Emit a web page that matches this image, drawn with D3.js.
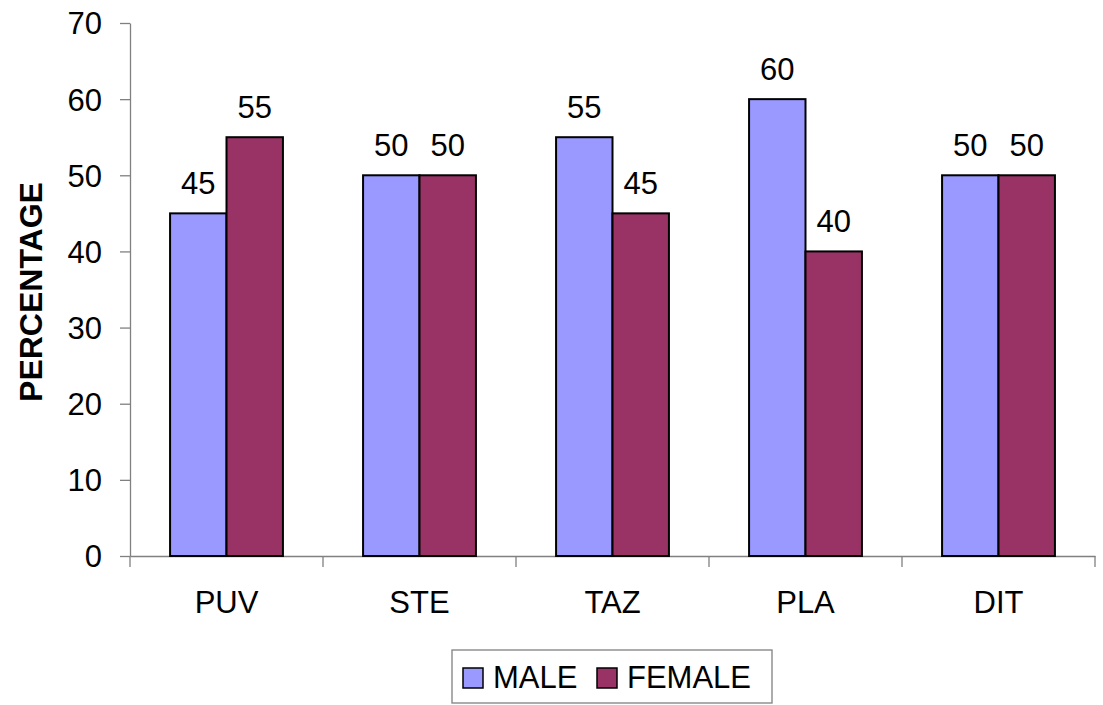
<!DOCTYPE html>
<html lang="en">
<head>
<meta charset="UTF-8">
<script src="https://d3js.org/d3.v7.min.js"></script>
<style>
    body { margin: 0; background: #fff; }
    svg { font-family: "Liberation Sans", Arial, sans-serif; }
    .axis path, .axis line { stroke: #808080; stroke-width: 1.3px; }
    .axis text { font-size: 31px; fill: #000; }
    .bar { stroke: #000; stroke-width: 2px; }
    .value { font-size: 31px; text-anchor: middle; }
    .axis-title { font-size: 32px; font-weight: bold; }
    .legend text { font-size: 31px; }
</style>
</head>
<body>
<div id="chart"></div>
<script>
    const categories = ["PUV", "STE", "TAZ", "PLA", "DIT"];
    const seriesNames = ["MALE", "FEMALE"];
    const male = [45, 50, 55, 60, 50];
    const female = [55, 50, 45, 40, 50];
    const yTicks = [0, 10, 20, 30, 40, 50, 60, 70];
    const colors = ["#9999ff", "#993366"];

    const W = 1103, H = 705;
    const margin = {top: 23, right: 8, bottom: 149, left: 130};
    const width = W - margin.left - margin.right;
    const height = H - margin.top - margin.bottom;

    const svg = d3.select("#chart").append("svg")
        .attr("width", W)
        .attr("height", H);

    const g = svg.append("g")
        .attr("transform", `translate(${margin.left},${margin.top})`);

    const x = d3.scaleBand()
        .domain(categories)
        .range([0, width]);

    const x1 = d3.scaleBand()
        .domain(seriesNames)
        .range([0, x.bandwidth()])
        .paddingInner(0)
        .paddingOuter(0.71);

    const y = d3.scaleLinear()
        .domain([0, 70])
        .range([height, 0]);

    const rows = categories.map((c, i) => ({
        cat: c,
        vals: [{s: "MALE", v: male[i]}, {s: "FEMALE", v: female[i]}]
    }));

    // axes
    g.append("g")
        .attr("class", "axis")
        .call(d3.axisLeft(y).tickValues(yTicks).tickSize(10).tickSizeOuter(0).tickPadding(18))
        .selectAll("text").attr("dy", "0.35em");

    const xAxis = g.append("g")
        .attr("class", "axis")
        .attr("transform", `translate(0,${height})`)
        .call(d3.axisBottom(x).tickSize(0).tickSizeOuter(0).tickPadding(35));

    // tick marks between categories
    xAxis.selectAll(".sep")
        .data(d3.range(categories.length + 1))
        .enter()
        .append("line")
        .attr("class", "sep")
        .attr("x1", i => i * x.step())
        .attr("x2", i => i * x.step())
        .attr("y1", 0)
        .attr("y2", 11);

    // bars
    const grp = g.selectAll(".grp")
        .data(rows)
        .enter()
        .append("g")
        .attr("transform", d => `translate(${x(d.cat)},0)`);

    grp.selectAll("rect")
        .data(d => d.vals)
        .enter()
        .append("rect")
        .attr("class", "bar")
        .attr("x", d => x1(d.s))
        .attr("width", x1.bandwidth())
        .attr("y", d => y(d.v))
        .attr("height", d => y(0) - y(d.v))
        .attr("fill", (d, i) => colors[i]);

    grp.selectAll("text")
        .data(d => d.vals)
        .enter()
        .append("text")
        .attr("class", "value")
        .attr("x", d => x1(d.s) + x1.bandwidth() / 2)
        .attr("y", d => y(d.v) - 19)
        .text(d => d.v);

    // y title
    svg.append("text")
        .attr("class", "axis-title")
        .attr("text-anchor", "middle")
        .attr("transform", "translate(42,292) rotate(-90)")
        .text("PERCENTAGE");

    // legend
    const legend = svg.append("g").attr("class", "legend");
    legend.append("rect")
        .attr("x", 452).attr("y", 650)
        .attr("width", 320).attr("height", 53)
        .attr("fill", "#fff")
        .attr("stroke", "#808080")
        .attr("stroke-width", 1.3);

    const legX = [463, 597];
    seriesNames.forEach((s, i) => {
        legend.append("rect")
            .attr("x", legX[i]).attr("y", 668)
            .attr("width", 20).attr("height", 20)
            .attr("fill", colors[i])
            .attr("stroke", "#000")
            .attr("stroke-width", 1.5);
        legend.append("text")
            .attr("x", legX[i] + 30)
            .attr("y", 688)
            .text(s);
    });
</script>
</body>
</html>
